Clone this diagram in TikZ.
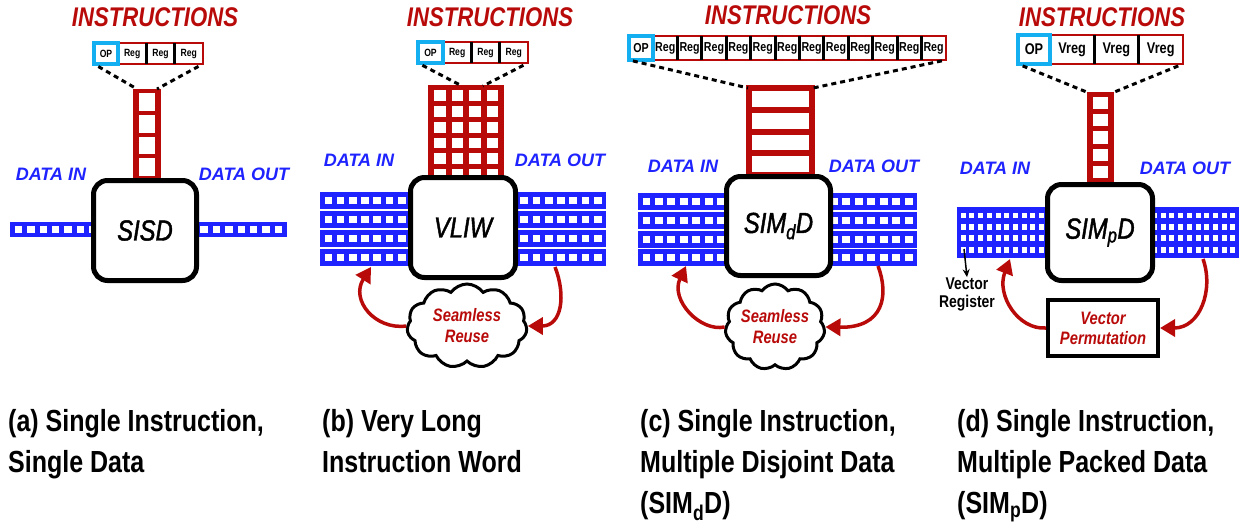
\documentclass[tikz,border=0pt]{standalone}
\usepackage{fontspec}
\setmainfont{Liberation Sans}
\newfontfamily\etroite[FakeStretch=0.82]{Liberation Sans}
\newfontfamily\etroitemi[FakeStretch=0.82,FakeBold=1.5]{Liberation Sans}
\usetikzlibrary{positioning,shapes.symbols,arrows.meta}

\definecolor{rougeinstr}{RGB}{185,10,10}
\definecolor{bleudonnee}{RGB}{30,35,255}
\definecolor{cyanop}{RGB}{20,175,240}

% grille de cases blanches : x0 y0 x1 y1 nx ny tx ty couleur
\newcommand{\grille}[9]{%
  \fill[#9] (#1,#2) rectangle (#3,#4);
  \pgfmathsetmacro\pasx{(#3-#1-#7)/#5}
  \pgfmathsetmacro\pasy{(#4-#2-#8)/#6}
  \foreach \i in {1,...,#5} {
    \foreach \j in {1,...,#6} {
      \fill[white] ({#1+#7+(\i-1)*\pasx},{#2+#8+(\j-1)*\pasy}) rectangle ++({\pasx-#7},{\pasy-#8});
    }
  }
}

\begin{document}
\begin{tikzpicture}[x=1pt,y=-1pt,
  titre/.style={text=rougeinstr, font=\etroite\bfseries\itshape\fontsize{27}{30}\selectfont},
  donnee/.style={text=bleudonnee, font=\bfseries\itshape\fontsize{18}{20}\selectfont},
  processeur/.style={draw=black, line width=5pt, rounded corners=14pt, fill=white, font=\etroitemi\itshape\fontsize{29}{32}\selectfont},
  regcase/.style n args={3}{draw=rougeinstr, line width=2.5pt, fill=white, inner sep=0pt, outer sep=0pt, minimum width=#1pt, minimum height=#2pt, font=\etroite\bfseries\fontsize{#3pt}{#3pt}\selectfont},
  opcase/.style n args={3}{draw=cyanop, line width=4pt, fill=white, inner sep=0pt, outer sep=0pt, minimum width=#1pt, minimum height=#2pt, font=\etroite\bfseries\fontsize{#3pt}{#3pt}\selectfont},
  separe/.style={line width=3pt},
  pointille/.style={line width=3pt, dash pattern=on 5pt off 4pt},
  retour/.style={draw=rougeinstr, line width=3.5pt, -{Triangle[length=15pt,width=17pt]}},
  nuage/.style={cloud, draw, line width=3pt, fill=white, cloud puffs=11, cloud puff arc=110, cloud ignores aspect, inner sep=0pt, text=rougeinstr, align=center, font=\etroite\bfseries\itshape\fontsize{18}{21}\selectfont},
  legende/.style={anchor=north west, inner sep=0pt, align=left, font=\etroite\bfseries\fontsize{30.5}{41}\selectfont}]

  \useasboundingbox (0,0) rectangle (1246,523);

  % (a) SISD
  \node[titre] (titreA) at (155,17) {INSTRUCTIONS};
  \node[regcase={28.3}{21}{10.5}] (regA1) at (132.15,53.5) {Reg};
  \node[regcase={28.3}{21}{10.5}, anchor=west] (regA2) at (regA1.east) {Reg};
  \node[regcase={28.3}{21}{10.5}, anchor=west] (regA3) at (regA2.east) {Reg};
  \draw[separe] (regA2.north west) -- (regA2.south west) (regA3.north west) -- (regA3.south west);
  \node[opcase={24}{21}{10.5}, anchor=east] (opA) at (regA1.west) {OP};
  \grille{133}{89}{161}{180}{1}{4}{6}{4}{rougeinstr}
  \coordinate (sommetA1) at (137,89);
  \coordinate (sommetA2) at (157,89);
  \draw[pointille, shorten <=5pt] (opA.south west) -- (sommetA1);
  \draw[pointille, shorten <=5pt] (regA3.south east) -- (sommetA2);
  \node[donnee] (entreeA) at (51,174) {DATA IN};
  \node[donnee] (sortieA) at (244,174) {DATA OUT};
  \grille{10}{222}{287}{237}{22}{1}{5}{4}{bleudonnee}
  \node[processeur, minimum width=103pt, minimum height=100pt] (procA) at (145,230.5) {SISD};

  % (b) VLIW
  \node[titre] (titreB) at (490,17) {INSTRUCTIONS};
  \node[regcase={28.3}{21}{10.5}] (regB1) at (457.15,52.5) {Reg};
  \node[regcase={28.3}{21}{10.5}, anchor=west] (regB2) at (regB1.east) {Reg};
  \node[regcase={28.3}{21}{10.5}, anchor=west] (regB3) at (regB2.east) {Reg};
  \draw[separe] (regB2.north west) -- (regB2.south west) (regB3.north west) -- (regB3.south west);
  \node[opcase={25}{21}{10.5}, anchor=east] (opB) at (regB1.west) {OP};
  \grille{428}{85}{504}{185}{4}{6}{6}{5}{rougeinstr}
  \coordinate (sommetB1) at (462,86);
  \coordinate (sommetB2) at (483,86);
  \draw[pointille, shorten <=5pt] (opB.south west) -- (sommetB1);
  \draw[pointille, shorten <=5pt] (regB3.south east) -- (sommetB2);
  \node[donnee] (entreeB) at (359,160) {DATA IN};
  \node[donnee] (sortieB) at (560,160) {DATA OUT};
  \foreach \ly in {192,211,230,249} {\grille{320}{\ly}{606}{\ly+17}{23}{1}{4.5}{5}{bleudonnee}}
  \node[processeur, minimum width=105pt, minimum height=100pt] (procB) at (463,227.5) {VLIW};
  \node[nuage, minimum width=120pt, minimum height=84pt] (nuageB) at (467,326) {Seamless\\Reuse};
  \coordinate (versB) at (371,267);
  \coordinate (depuisB) at (555,267);
  \draw[retour] (nuageB.west) .. controls (375,330) and (350,300) .. (versB);
  \draw[retour] (depuisB) .. controls (566,295) and (562,326) .. (nuageB.east);

  % (c) SIMdD
  \node[titre] (titreC) at (788,15) {INSTRUCTIONS};
  \node[regcase={24.4}{24}{13}] (regC1) at (665.2,48) {Reg};
  \foreach \i [remember=\i as \prec (initially 1)] in {2,...,12} {
    \node[regcase={24.4}{24}{13}, anchor=west] (regC\i) at (regC\prec.east) {Reg};
  }
  \foreach \i in {2,...,12} {\draw[separe] (regC\i.north west) -- (regC\i.south west);}
  \node[opcase={24}{24}{13}, anchor=east] (opC) at (regC1.west) {OP};
  \grille{746}{85}{815}{178}{1}{4}{6}{6}{rougeinstr}
  \coordinate (sommetC1) at (748,88);
  \coordinate (sommetC2) at (813,88);
  \draw[pointille, shorten <=4pt] (opC.south west) -- (sommetC1);
  \draw[pointille, shorten <=4pt] (regC12.south east) -- (sommetC2);
  \node[donnee] (entreeC) at (683,166) {DATA IN};
  \node[donnee] (sortieC) at (874,166) {DATA OUT};
  \foreach \ly in {193,211.8,230.6,249.4} {\grille{638}{\ly}{917}{\ly+17}{22}{1}{4.5}{5}{bleudonnee}}
  \node[processeur, minimum width=104pt, minimum height=99pt] (procC) at (778.5,226) {SIM\textsubscript{d}D};
  \node[nuage, minimum width=96pt, minimum height=86pt] (nuageC) at (775,327) {Seamless\\Reuse};
  \coordinate (versC) at (686,266);
  \coordinate (depuisC) at (878,266);
  \draw[retour] (nuageC.west) .. controls (700,332) and (670,300) .. (versC);
  \draw[retour] (depuisC) .. controls (889,295) and (884,328) .. (nuageC.east);

  % (d) SIMpD
  \node[titre] (titreD) at (1102,17) {INSTRUCTIONS};
  \node[regcase={44.3}{29}{15.5}] (regD1) at (1072.15,49.5) {Vreg};
  \node[regcase={44.3}{29}{15.5}, anchor=west] (regD2) at (regD1.east) {Vreg};
  \node[regcase={44.3}{29}{15.5}, anchor=west] (regD3) at (regD2.east) {Vreg};
  \draw[separe] (regD2.north west) -- (regD2.south west) (regD3.north west) -- (regD3.south west);
  \node[opcase={32}{29}{15.5}, anchor=east] (opD) at (regD1.west) {OP};
  \grille{1087}{92}{1114}{183}{1}{5}{6}{5}{rougeinstr}
  \coordinate (sommetD1) at (1089,93);
  \coordinate (sommetD2) at (1112,93);
  \draw[pointille, shorten <=5pt] (opD.south west) -- (sommetD1);
  \draw[pointille, shorten <=5pt] (regD3.south east) -- (sommetD2);
  \node[donnee] (entreeD) at (995,168) {DATA IN};
  \node[donnee] (sortieD) at (1185,168) {DATA OUT};
  \grille{957}{207}{1239}{258}{32}{4}{3.7}{5.5}{bleudonnee}
  \node[processeur, minimum width=105pt, minimum height=96pt] (procD) at (1100,232.5) {SIM\textsubscript{p}D};
  \coordinate (regvec) at (964,249);
  \node[align=center, inner sep=0pt, font=\etroite\bfseries\fontsize{17}{18}\selectfont] (etiqVR) at (967,294) {Vector\\Register};
  \draw[line width=1.5pt, -{Stealth[length=8pt,width=7pt]}] (regvec) -- (etiqVR.north);
  \node[draw, line width=4pt, fill=white, minimum width=110pt, minimum height=56pt, align=center, text=rougeinstr, font=\etroite\bfseries\itshape\fontsize{18}{20}\selectfont] (permD) at (1103,328) {Vector\\Permutation};
  \coordinate (versD) at (1010,259);
  \coordinate (depuisD) at (1203,259);
  \draw[retour] (permD.west) .. controls (1018,330) and (996,295) .. (versD);
  \draw[retour] (depuisD) .. controls (1214,290) and (1200,328) .. (permD.east);

  % legendes
  \node[legende] (legA) at (8,409) {(a) Single Instruction,\\Single Data};
  \node[legende] (legB) at (322,409) {(b) Very Long\\Instruction Word};
  \node[legende] (legC) at (640,409) {(c) Single Instruction,\\Multiple Disjoint Data\\(SIM\textsubscript{d}D)};
  \node[legende] (legD) at (957,409) {(d) Single Instruction,\\Multiple Packed Data\\(SIM\textsubscript{p}D)};
\end{tikzpicture}
\end{document}
